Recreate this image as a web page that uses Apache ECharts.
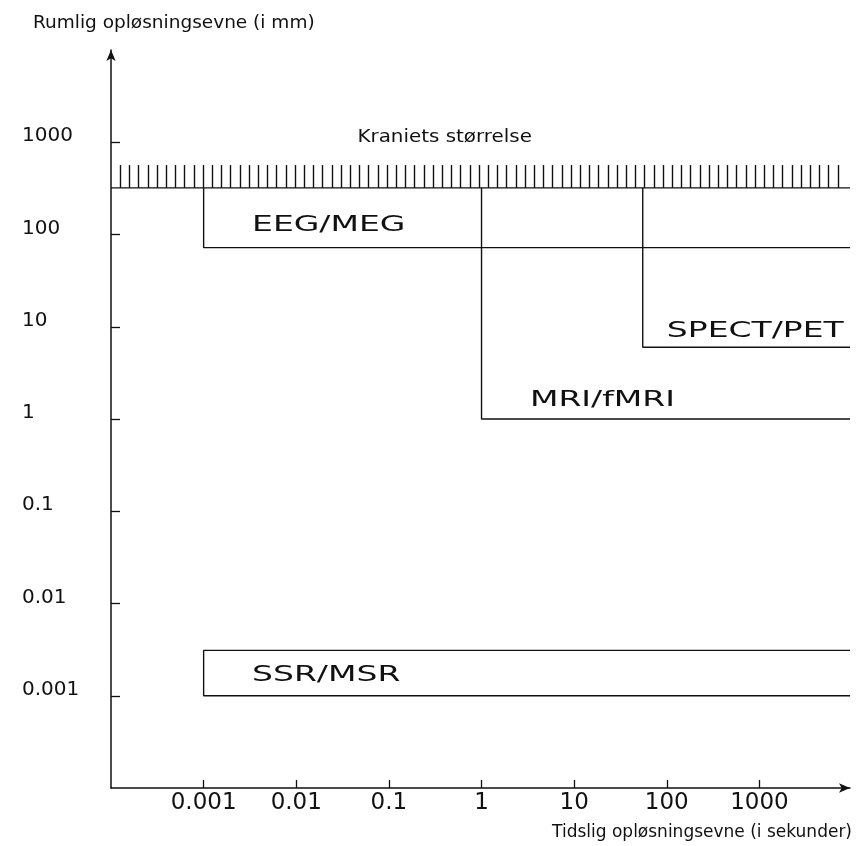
<!DOCTYPE html>
<html>
<head>
<meta charset="utf-8">
<script src="https://cdn.jsdelivr.net/npm/echarts@6/dist/echarts.min.js"></script>
<style>
html,body{margin:0;padding:0;background:#fff;}
#chart{width:866px;height:846px;}
</style>
</head>
<body>
<div id="chart"></div>
<script>
// ---- data ----
const xTickValues = [0.001, 0.01, 0.1, 1, 10, 100, 1000];
const xTickLabels = ['0.001', '0.01', '0.1', '1', '10', '100', '1000'];
const yTickValues = [0.001, 0.01, 0.1, 1, 10, 100, 1000];
const yTickLabels = ['0.001', '0.01', '0.1', '1', '10', '100', '1000'];
const xMin = 0.0001, xMax = 9500;   // temporal resolution axis (s)
const yMin = 0.0001, yMax = 10000;  // spatial resolution axis (mm)

const skullSize = 320;      // "Kraniets størrelse" (mm)
const skullHatchTop = 566;

const methodNames = ['EEG/MEG', 'MRI/fMRI', 'SPECT/PET', 'SSR/MSR'];
const methodTimeMin = [0.001, 1, 55, 0.001];      // s
const methodSpaceMin = [72, 1, 6, 0.001];          // mm
const methodSpaceMax = [skullSize, skullSize, skullSize, 0.0031]; // mm

const labelTexts = ['EEG/MEG', 'MRI/fMRI', 'SPECT/PET', 'SSR/MSR'];
const labelX = [0.00333, 3.33, 100, 0.00333];
const labelY = [127, 1.6, 9, 0.00168];
const skullLabel = 'Kraniets størrelse';
const skullLabelX = 0.40, skullLabelY = 1110;

const yTitle = 'Rumlig opløsningsevne (i mm)';
const xTitle = 'Tidslig opløsningsevne (i sekunder)';

// ---- build ----
const FONT = 'DejaVu Sans';
const INK = '#111';
function decadeLabel(vals, labels) {
  return function (v) {
    const e = Math.round(Math.log10(v));
    for (let i = 0; i < vals.length; i++) {
      if (Math.round(Math.log10(vals[i])) === e && Math.abs(Math.log10(v) - e) < 1e-6) return labels[i];
    }
    return '';
  };
}

const lineStyle = { color: INK, width: 1.4 };
const series = [];

// skull baseline
series.push({
  type: 'line', silent: true, symbol: 'none', lineStyle: lineStyle, z: 3,
  data: [[xMin, skullSize], [xMax, skullSize]]
});
// skull hatch band
series.push({
  type: 'custom', silent: true, z: 3,
  encode: { x: [0, 2], y: [1, 3] },
  data: [[xMin, skullSize, xMax, skullHatchTop]],
  renderItem: function (params, api) {
    const p0 = api.coord([api.value(0), api.value(1)]);
    const p1 = api.coord([api.value(2), api.value(3)]);
    const children = [];
    for (let x = p0[0] + 9; x <= p1[0] - 4; x += 9.2) {
      const xx = Math.round(x) + 0.5;
      children.push({ type: 'line', shape: { x1: xx, y1: p0[1], x2: xx, y2: p1[1] }, style: { stroke: '#111', lineWidth: 1.4 } });
    }
    return { type: 'group', children: children };
  }
});
// methods
for (let i = 0; i < methodNames.length; i++) {
  let data;
  if (methodSpaceMax[i] === skullSize) {
    data = [[methodTimeMin[i], methodSpaceMax[i]], [methodTimeMin[i], methodSpaceMin[i]], [xMax, methodSpaceMin[i]]];
  } else {
    data = [[xMax, methodSpaceMax[i]], [methodTimeMin[i], methodSpaceMax[i]], [methodTimeMin[i], methodSpaceMin[i]], [xMax, methodSpaceMin[i]]];
  }
  series.push({ name: methodNames[i], type: 'line', silent: true, symbol: 'none', lineStyle: lineStyle, z: 3, data: data });
}
// method labels
series.push({
  type: 'custom', silent: true, z: 5,
  encode: { x: 0, y: 1 },
  data: labelX.map((x, i) => [x, labelY[i]]),
  renderItem: function (params, api) {
    const p = api.coord([api.value(0), api.value(1)]);
    return {
      type: 'text', x: p[0], y: p[1], scaleX: 1.5, scaleY: 1,
      style: { text: labelTexts[params.dataIndex], fontFamily: FONT, fontSize: 22, fill: INK, align: 'left', verticalAlign: 'middle' }
    };
  }
});
// skull label
series.push({
  type: 'custom', silent: true, z: 5,
  encode: { x: 0, y: 1 },
  data: [[skullLabelX, skullLabelY]],
  renderItem: function (params, api) {
    const p = api.coord([api.value(0), api.value(1)]);
    return {
      type: 'text', x: p[0], y: p[1], scaleX: 1.17, scaleY: 1,
      style: { text: skullLabel, fontFamily: FONT, fontSize: 17, fill: INK, align: 'center', verticalAlign: 'middle' }
    };
  }
});

const option = {
  animation: false,
  backgroundColor: '#fff',
  title: [
    { text: yTitle, left: 33, top: 14, padding: 0,
      textStyle: { fontFamily: FONT, fontSize: 18.5, fontWeight: 'normal', color: INK, lineHeight: 18 } },
    { text: xTitle, right: 14, top: 824, padding: 0,
      textStyle: { fontFamily: FONT, fontSize: 17, fontWeight: 'normal', color: INK, lineHeight: 17 } }
  ],
  grid: { left: 111, right: 16, top: 50, bottom: 58, containLabel: false },
  xAxis: {
    type: 'log', logBase: 10, min: xMin, max: xMax,
    axisLine: { show: true, lineStyle: { color: INK, width: 1.5 }, symbol: ['none', 'arrow'], symbolSize: [7, 11] },
    axisTick: { show: true, inside: true, length: 8, lineStyle: { color: INK, width: 1.3 }, customValues: xTickValues },
    axisLabel: { show: true, margin: 4, fontFamily: FONT, fontSize: 23, color: INK, lineHeight: 23,
      customValues: xTickValues, formatter: decadeLabel(xTickValues, xTickLabels) },
    splitLine: { show: false }, minorTick: { show: false }
  },
  yAxis: {
    type: 'log', logBase: 10, min: yMin, max: yMax,
    axisLine: { show: true, lineStyle: { color: INK, width: 1.5 }, symbol: ['none', 'arrow'], symbolSize: [7, 11] },
    axisTick: { show: true, inside: true, length: 9, lineStyle: { color: INK, width: 1.3 }, customValues: yTickValues },
    axisLabel: { show: true, margin: 89, align: 'left', verticalAlign: 'bottom', lineHeight: 12,
      fontFamily: FONT, fontSize: 20, color: INK,
      customValues: yTickValues, formatter: decadeLabel(yTickValues, yTickLabels) },
    splitLine: { show: false }, minorTick: { show: false }
  },
  series: series
};

const chart = echarts.init(document.getElementById('chart'), null, { renderer: 'canvas' });
chart.setOption(option);
</script>
</body>
</html>
